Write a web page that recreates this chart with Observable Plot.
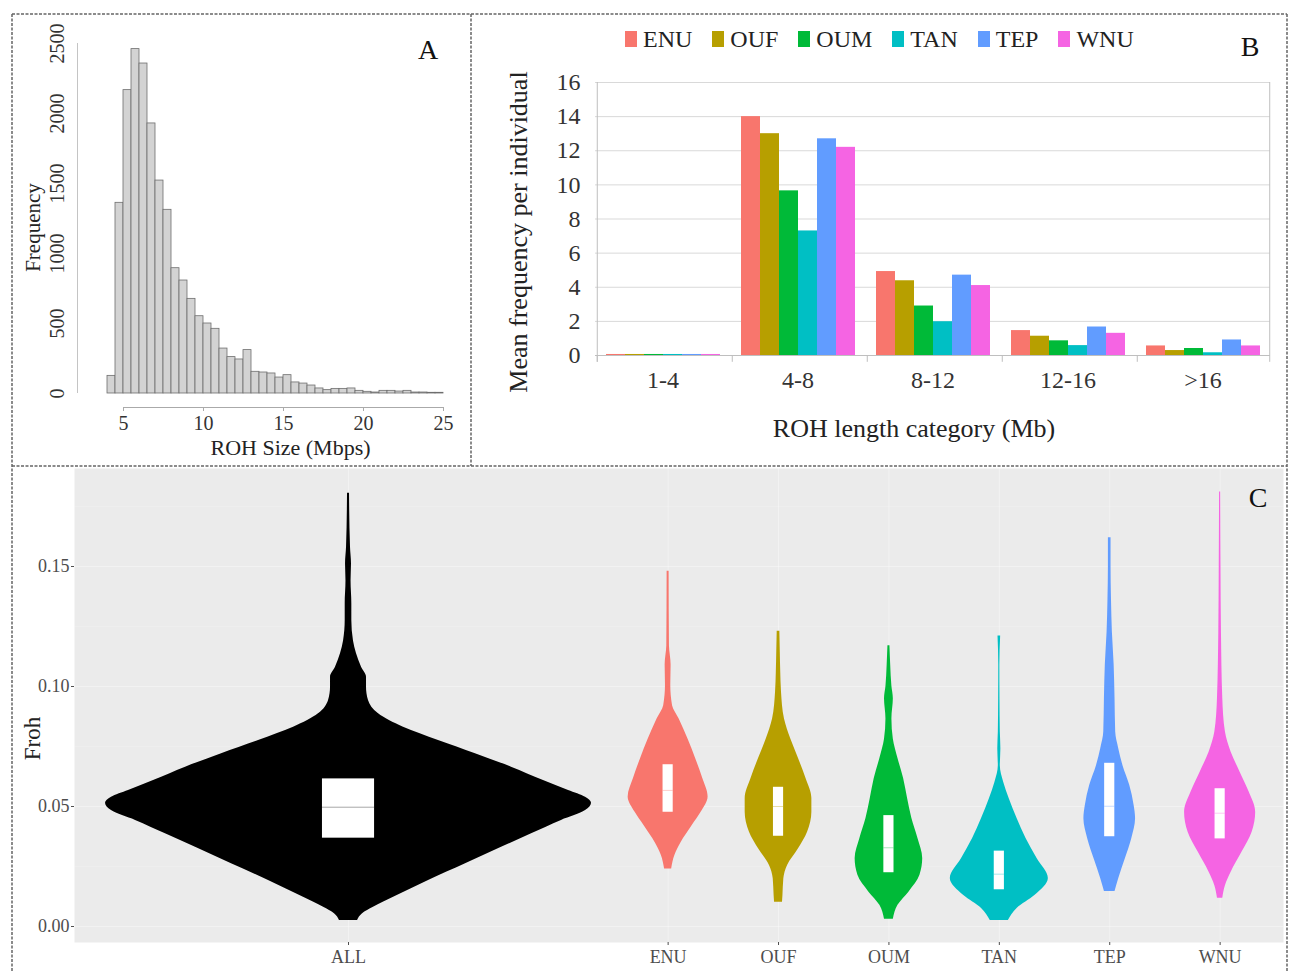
<!DOCTYPE html>
<html><head><meta charset="utf-8">
<script src="https://cdn.jsdelivr.net/npm/d3@7"></script>
<script src="https://cdn.jsdelivr.net/npm/@observablehq/plot@0.6"></script>
<style>
html,body{margin:0;padding:0;background:#fff;}
#fig{position:relative;width:1294px;height:971px;overflow:hidden;background:#fff;font-family:"Liberation Serif","Times New Roman",serif;}
#fig > svg, #fig > div {position:absolute;}
.lbl{position:absolute;font-size:28px;color:#111;line-height:1;transform:translate(-50%,-50%);}
.leg-swatch{margin-right:20px !important;}
.leg-swatch > svg{margin-right:6px !important;}
</style></head><body><div id="fig"></div><script>
// ---------------- DATA ----------------
// Panel A: histogram of ROH sizes (bin start in Mbps, bin width 0.5)
const histBins = [3.5,4,4.5,5,5.5,6,6.5,7,7.5,8,8.5,9,9.5,10,10.5,11,11.5,12,12.5,13,13.5,14,14.5,15,15.5,16,16.5,17,17.5,18,18.5,19,19.5,20,20.5,21,21.5,22,22.5,23,23.5,24,24.5];
const histCounts = [0,126,1362,2167,2460,2357,1929,1521,1312,895,807,676,552,500,462,321,260,243,310,155,150,143,114,131,79,71,57,36,24,33,33,36,19,12,7,19,19,14,19,7,7,5,5];
const histXTicks = [5,10,15,20,25];
const histYTicks = [0,500,1000,1500,2000,2500];

// Panel B: mean ROH frequency per individual by length class
const rohCategories = ["1-4","4-8","8-12","12-16",">16"];
const pops = ["ENU","OUF","OUM","TAN","TEP","WNU"];
const popColors = ["#F8766D","#B79F00","#00BA38","#00BFC4","#619CFF","#F564E3"];
const meanENU = [0.06,14.0,4.92,1.46,0.56];
const meanOUF = [0.06,13.0,4.38,1.13,0.29];
const meanOUM = [0.06,9.65,2.90,0.86,0.41];
const meanTAN = [0.06,7.30,1.98,0.58,0.16];
const meanTEP = [0.06,12.7,4.71,1.67,0.91];
const meanWNU = [0.06,12.2,4.10,1.30,0.56];
const barYTicks = [0,2,4,6,8,10,12,14,16];

// Panel C: Froh violins  [Froh, half-width of density]
const groups = ["ALL","ENU","OUF","OUM","TAN","TEP","WNU"];
const groupColors = ["#000000","#F8766D","#B79F00","#00BA38","#00BFC4","#619CFF","#F564E3"];
const violinALL = [[0.1805,0.009],[0.158,0.018],[0.151,0.027],[0.144,0.023],[0.1345,0.030],[0.1275,0.030],[0.119,0.045],[0.1137,0.072],[0.108,0.118],[0.1039,0.163],[0.0997,0.163],[0.0942,0.181],[0.0886,0.272],[0.083,0.498],[0.0775,0.815],[0.072,1.150],[0.0664,1.476],[0.0608,1.766],[0.0567,1.993],[0.0539,2.147],[0.0514,2.201],[0.0483,2.147],[0.0442,1.929],[0.0386,1.658],[0.033,1.386],[0.0261,1.060],[0.0192,0.725],[0.0122,0.408],[0.008,0.226],[0.0053,0.127],[0.0025,0.082]];
const violinENU = [[0.148,0.009],[0.117,0.012],[0.109,0.027],[0.1004,0.024],[0.092,0.040],[0.0865,0.100],[0.078,0.181],[0.070,0.249],[0.0617,0.314],[0.054,0.362],[0.0476,0.299],[0.042,0.217],[0.035,0.118],[0.0296,0.061],[0.024,0.032]];
const violinOUF = [[0.123,0.012],[0.1143,0.016],[0.106,0.020],[0.0976,0.027],[0.0865,0.054],[0.078,0.112],[0.070,0.181],[0.0617,0.249],[0.0533,0.302],[0.0476,0.302],[0.0393,0.263],[0.0324,0.181],[0.0254,0.082],[0.0199,0.048],[0.0129,0.040],[0.0101,0.036]];
const violinOUM = [[0.117,0.009],[0.109,0.016],[0.100,0.027],[0.0949,0.040],[0.0865,0.027],[0.078,0.040],[0.070,0.082],[0.0617,0.133],[0.0533,0.169],[0.045,0.208],[0.0367,0.263],[0.0283,0.306],[0.0213,0.281],[0.0143,0.181],[0.0088,0.082],[0.003,0.040]];
const violinTAN = [[0.121,0.012],[0.109,0.005],[0.095,0.006],[0.081,0.009],[0.074,0.014],[0.067,0.009],[0.060,0.040],[0.0533,0.089],[0.045,0.161],[0.0367,0.242],[0.0283,0.342],[0.020,0.444],[0.0129,0.322],[0.0075,0.161],[0.0025,0.082]];
const violinTEP = [[0.162,0.012],[0.150,0.012],[0.136,0.016],[0.1226,0.024],[0.109,0.040],[0.095,0.048],[0.081,0.054],[0.074,0.082],[0.067,0.120],[0.0588,0.181],[0.0504,0.221],[0.0449,0.234],[0.0365,0.199],[0.028,0.140],[0.020,0.082],[0.0146,0.048]];
const violinWNU = [[0.181,0.005],[0.150,0.008],[0.1226,0.012],[0.095,0.024],[0.081,0.048],[0.0726,0.100],[0.0643,0.181],[0.056,0.263],[0.0476,0.322],[0.0393,0.290],[0.031,0.199],[0.0226,0.100],[0.017,0.048],[0.0118,0.024]];
const boxQ1 = [0.0368,0.0476,0.0376,0.0224,0.0153,0.0374,0.0365];
const boxMedian = [0.0497,0.0567,0.0500,0.0328,0.0218,0.0501,0.0472];
const boxQ3 = [0.0615,0.0674,0.0580,0.0462,0.0314,0.0680,0.0574];
const frohTicks = [0,0.05,0.10,0.15];
const frohMinor = [0.025,0.075,0.125,0.175];

// ---------------- LAYOUT ----------------
const serif = '"Liberation Serif","Times New Roman",serif';
const fig = document.getElementById("fig");
function place(el, left, top) { el.style.left = left + "px"; el.style.top = top + "px"; fig.appendChild(el); }

// ---------- Panel A ----------
const histRows = histBins.map((b, i) => ({x0: b, x1: b + 0.5, count: histCounts[i]}));
const aXDomain = [2.125, 25];
const plotA = Plot.plot({
  width: 458, height: 452,
  marginLeft: 65, marginRight: 27, marginTop: 29, marginBottom: 73,
  x: {domain: aXDomain, axis: null},
  y: {domain: [0, 2500], axis: null},
  style: {fontFamily: serif, background: "transparent", overflow: "visible", color: "#222"},
  marks: [
    Plot.rectY(histRows, {x1: "x0", x2: "x1", y: "count", fill: "#d3d3d3", stroke: "#6e6e6e", strokeWidth: 0.8, inset: 0}),
    Plot.ruleX([aXDomain[0]], {y1: () => 0, y2: () => 2500, stroke: "#c4c4c4"}),
    Plot.text(histYTicks, {y: d => d, text: d => String(d), frameAnchor: "left", dx: -20, rotate: -90, textAnchor: "middle", fontSize: 20, fill: "#333"}),
    Plot.text(["Frequency"], {text: d => d, frameAnchor: "left", dx: -44, dy: 9, rotate: -90, textAnchor: "middle", lineAnchor: "middle", fontSize: 21, fill: "#222"}),
    Plot.ruleY([0], {x1: () => histXTicks[0], x2: () => histXTicks[histXTicks.length - 1], dy: 14, stroke: "#aaa"}),
    Plot.axisX(histXTicks, {tickSize: 4, tickPadding: 4, dy: 14, fontSize: 20, fill: "#333", stroke: "#aaa", label: null}),
    Plot.text(["ROH Size (Mbps)"], {text: d => d, frameAnchor: "bottom", dx: 30, dy: 54, textAnchor: "middle", lineAnchor: "middle", fontSize: 22, fill: "#222"})
  ]
});
place(plotA, 12, 14);

// ---------- Panel B ----------
const meansByPop = {ENU: meanENU, OUF: meanOUF, OUM: meanOUM, TAN: meanTAN, TEP: meanTEP, WNU: meanWNU};
const bRows = rohCategories.flatMap((c, ci) => pops.map(p => ({cat: c, pop: p, v: meansByPop[p][ci]})));
const bW = 816, bML = 124, bMR = 17;
const facetW = (bW - bML - bMR) / rohCategories.length;
const padOuter = 0.46;
const step = facetW / (pops.length + 2 * padOuter);
const edge = step * (padOuter + 0.5);
const firstCat = rohCategories[0], lastCat = rohCategories[rohCategories.length - 1];
const plotB = Plot.plot({
  width: bW, height: 452,
  marginLeft: bML, marginRight: bMR, marginTop: 68, marginBottom: 111,
  fx: {domain: rohCategories, padding: 0, axis: null},
  x: {domain: pops, paddingInner: 0, paddingOuter: padOuter, axis: null},
  y: {domain: [0, 16], axis: null},
  color: {domain: pops, range: popColors},
  style: {fontFamily: serif, background: "transparent", overflow: "visible", color: "#222"},
  marks: [
    Plot.gridY(barYTicks.filter(d => d > 0), {stroke: "#d9d9d9", strokeOpacity: 1}),
    Plot.barY(bRows, {fx: "cat", x: "pop", y: "v", fill: "pop", inset: 0}),
    Plot.ruleY([0], {stroke: "#bfbfbf"}),
    Plot.ruleX(rohCategories, {fx: d => d, x: () => pops[0], dx: -edge, y1: () => 0, y2: () => -0.4, stroke: "#bfbfbf"}),
    Plot.ruleX([firstCat], {fx: d => d, x: () => pops[0], dx: -edge, y1: () => -0.4, y2: () => 16, stroke: "#bfbfbf"}),
    Plot.ruleX([lastCat], {fx: d => d, x: () => pops[pops.length - 1], dx: edge, y1: () => -0.4, y2: () => 16, stroke: "#bfbfbf"}),
    Plot.axisY(barYTicks, {tickSize: 0, tickPadding: 15, fontSize: 24, fill: "#333", label: null}),
    Plot.axisFx({anchor: "bottom", tickSize: 0, tickPadding: 15, fontSize: 24, fill: "#333", label: null}),
    Plot.text([firstCat], {fx: d => d, text: () => "Mean frequency per individual", frameAnchor: "left", dx: -77, dy: 13, rotate: -90, textAnchor: "middle", lineAnchor: "middle", fontSize: 26, fill: "#222"}),
    Plot.text([rohCategories[2]], {fx: d => d, text: () => "ROH length category (Mb)", frameAnchor: "bottom", dx: -19, dy: 73, textAnchor: "middle", lineAnchor: "middle", fontSize: 26, fill: "#222"})
  ]
});
place(plotB, 471, 14);

const legend = Plot.legend({
  color: {type: "ordinal", domain: pops, range: popColors},
  legend: "swatches", swatchWidth: 12, swatchHeight: 16, className: "leg",
  style: {fontFamily: serif, fontSize: "24px", color: "#222", minHeight: "0px", margin: "0px", lineHeight: "1"}
});
const legWrap = document.createElement("div");
legWrap.appendChild(legend);
place(legWrap, 625, 27);

// ---------- Panel C ----------
const violinByGroup = {ALL: violinALL, ENU: violinENU, OUF: violinOUF, OUM: violinOUM, TAN: violinTAN, TEP: violinTEP, WNU: violinWNU};
const ALL_GAP = 2.895;  // layout: ALL sits apart from the six populations
const slot = g => g === "ALL" ? 1 - ALL_GAP : pops.indexOf(g) + 1;
const boxHalf = g => g === "ALL" ? 0.236 : 0.046;
const cRows = groups.flatMap(g => violinByGroup[g].map(([froh, hw]) => ({group: g, froh, hw})).sort((a, b) => a.froh - b.froh));
const boxRows = groups.map((g, i) => ({group: g, q1: boxQ1[i], med: boxMedian[i], q3: boxQ3[i]}));
const slots = groups.map(slot);
const plotC = Plot.plot({
  width: 1275, height: 505,
  marginLeft: 62, marginRight: 4, marginTop: 2, marginBottom: 29,
  x: {domain: [-4.377, 6.574], axis: null},
  y: {domain: [-0.00667, 0.19083], axis: null},
  color: {domain: groups, range: groupColors},
  style: {fontFamily: serif, background: "transparent", overflow: "visible", color: "#222"},
  marks: [
    Plot.frame({fill: "#ebebeb", stroke: null}),
    Plot.gridY(frohMinor, {stroke: "#fff", strokeOpacity: 0.18}),
    Plot.gridY(frohTicks, {stroke: "#fff", strokeOpacity: 0.35}),
    Plot.gridX(slots, {stroke: "#fff", strokeOpacity: 0.35}),
    Plot.areaX(cRows, {y: "froh", x1: d => slot(d.group) - d.hw, x2: d => slot(d.group) + d.hw, z: "group", fill: "group", curve: "monotone-y"}),
    Plot.rect(boxRows, {x1: d => slot(d.group) - boxHalf(d.group), x2: d => slot(d.group) + boxHalf(d.group), y1: "q1", y2: "q3", fill: "white"}),
    Plot.ruleY(boxRows, {y: "med", x1: d => slot(d.group) - boxHalf(d.group), x2: d => slot(d.group) + boxHalf(d.group), stroke: "group", strokeOpacity: 0.35}),
    Plot.axisY(frohTicks, {tickSize: 3, tickPadding: 2, tickFormat: d => d.toFixed(2), fontSize: 18, fill: "#4d4d4d", stroke: "#4d4d4d", label: null}),
    Plot.axisX(slots, {tickSize: 3, tickPadding: 5, tickFormat: d => groups[slots.indexOf(d)], fontSize: 18, fill: "#4d4d4d", stroke: "#4d4d4d", label: null}),
    Plot.text(["Froh"], {text: d => d, frameAnchor: "left", dx: -42, dy: 33, rotate: -90, textAnchor: "middle", lineAnchor: "middle", fontSize: 23, fill: "#222"})
  ]
});
place(plotC, 12, 466);

// ---------- panel letters ----------
[["A", 428, 50], ["B", 1250, 47], ["C", 1258, 498]].forEach(([t, x, y]) => {
  const d = document.createElement("div");
  d.className = "lbl"; d.textContent = t;
  d.style.left = x + "px"; d.style.top = y + "px";
  fig.appendChild(d);
});

// ---------- dashed panel borders ----------
const ns = "http://www.w3.org/2000/svg";
const ov = document.createElementNS(ns, "svg");
ov.setAttribute("width", 1294); ov.setAttribute("height", 971);
ov.style.position = "absolute"; ov.style.left = "0px"; ov.style.top = "0px"; ov.style.pointerEvents = "none";
[[12,14,1287,14],[12,14,12,975],[1287,14,1287,975],[471,14,471,466],[12,466,1287,466]].forEach(([x1,y1,x2,y2]) => {
  const l = document.createElementNS(ns, "line");
  l.setAttribute("x1", x1); l.setAttribute("y1", y1); l.setAttribute("x2", x2); l.setAttribute("y2", y2);
  l.setAttribute("stroke", "#666"); l.setAttribute("stroke-width", "1.5"); l.setAttribute("stroke-dasharray", "3 1.5");
  ov.appendChild(l);
});
fig.appendChild(ov);
</script></body></html>
